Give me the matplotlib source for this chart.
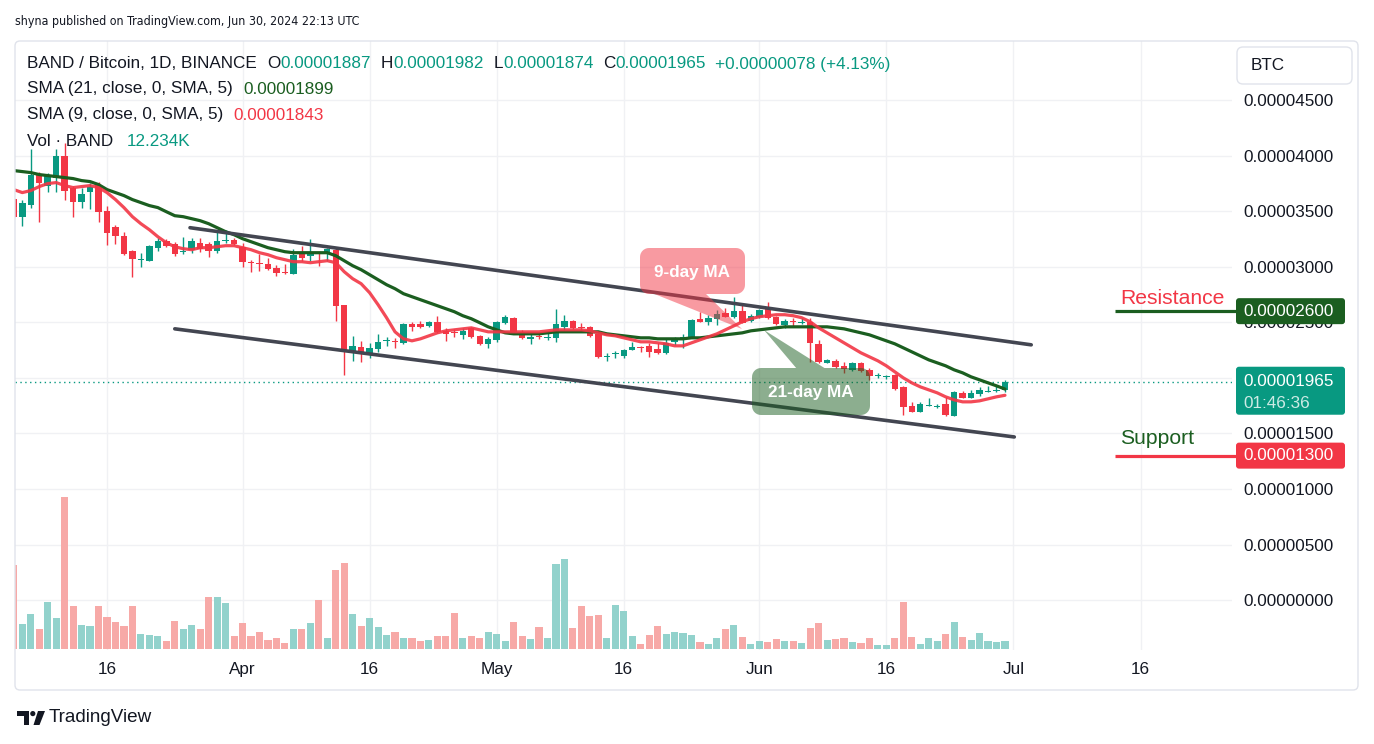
import numpy as np
import pandas as pd
import matplotlib
matplotlib.use("Agg")
import matplotlib.pyplot as plt
import matplotlib.dates as mdates
from matplotlib.path import Path
from matplotlib.patches import PathPatch, FancyBboxPatch, Circle, Polygon
from matplotlib.transforms import IdentityTransform
from matplotlib import font_manager

# ---------------------------------------------------------------- data
start_date = "2024-03-05"
end_date = "2024-06-30"

# prices in satoshi (1e-8 BTC)
open_sat = [3613, 3450, 3559, 3829, 3730, 3802, 4000, 3712, 3586, 3676,
            3739, 3505, 3360, 3279, 3144, 3060, 3054, 3171, 3234, 3207,
            3133, 3153, 3216, 3207, 3144, 3230, 3243, 3180, 3046, 3036,
            3027, 2991, 2950, 2937, 3117, 3099, 3120, 3117, 3153, 2658,
            2234, 2279, 2207, 2261, 2331, 2326, 2315, 2486, 2486, 2468,
            2505, 2423, 2408, 2387, 2450, 2378, 2306, 2342, 2496, 2541,
            2414, 2351, 2378, 2365, 2360, 2459, 2514, 2455, 2459, 2396,
            2186, 2212, 2198, 2252, 2274, 2288, 2261, 2225, 2324, 2342,
            2369, 2532, 2505, 2532, 2586, 2550, 2604, 2514, 2550, 2622,
            2550, 2477, 2509, 2493, 2505, 2306, 2135, 2153, 2108, 2072,
            2135, 2072, 2015, 2006, 2027, 1919, 1748, 1694, 1754, 1745,
            1766, 1658, 1865, 1820, 1856, 1878, 1882, 1887]
high_sat = [3620, 3604, 4063, 3856, 3847, 4063, 4117, 3730, 3712, 3757,
            3766, 3550, 3378, 3315, 3153, 3126, 3198, 3261, 3252, 3225,
            3270, 3261, 3261, 3225, 3324, 3333, 3261, 3216, 3063, 3117,
            3081, 3018, 3027, 3162, 3189, 3252, 3135, 3171, 3171, 2658,
            2378, 2333, 2315, 2396, 2369, 2360, 2496, 2505, 2514, 2514,
            2559, 2450, 2441, 2450, 2459, 2387, 2369, 2514, 2568, 2550,
            2432, 2405, 2414, 2414, 2622, 2568, 2523, 2496, 2468, 2405,
            2225, 2243, 2261, 2324, 2288, 2315, 2315, 2360, 2369, 2396,
            2532, 2595, 2568, 2613, 2631, 2730, 2658, 2577, 2622, 2685,
            2559, 2532, 2541, 2541, 2541, 2342, 2171, 2171, 2144, 2144,
            2144, 2090, 2045, 2027, 2036, 1925, 1784, 1784, 1820, 1766,
            1829, 1878, 1883, 1892, 1919, 1925, 1930, 1982]
low_sat = [3440, 3369, 3532, 3405, 3676, 3676, 3604, 3450, 3532, 3523,
           3405, 3198, 3207, 3108, 2910, 3000, 3050, 3144, 3180, 3099,
           3117, 3126, 3135, 3090, 3126, 3216, 3198, 3000, 2955, 2964,
           2973, 2919, 2935, 2935, 3054, 3054, 3009, 3054, 2514, 2027,
           2153, 2144, 2180, 2234, 2288, 2270, 2306, 2423, 2450, 2459,
           2405, 2333, 2369, 2351, 2360, 2297, 2270, 2324, 2486, 2405,
           2351, 2306, 2351, 2342, 2324, 2432, 2441, 2414, 2369, 2180,
           2153, 2180, 2180, 2250, 2234, 2189, 2216, 2216, 2297, 2270,
           2365, 2500, 2477, 2477, 2545, 2541, 2490, 2505, 2541, 2532,
           2477, 2450, 2468, 2486, 2144, 2135, 2130, 2090, 2045, 2063,
           2054, 1982, 2000, 1991, 1892, 1667, 1690, 1690, 1748, 1730,
           1658, 1655, 1818, 1818, 1838, 1870, 1875, 1874]
close_sat = [3450, 3577, 3829, 3757, 3829, 4000, 3685, 3586, 3658, 3721,
             3495, 3306, 3279, 3117, 3072, 3064, 3189, 3234, 3189, 3117,
             3137, 3234, 3162, 3144, 3234, 3234, 3207, 3045, 3038, 3030,
             2982, 2946, 2943, 3108, 3081, 3117, 3112, 3162, 2649, 2243,
             2288, 2216, 2270, 2324, 2335, 2320, 2486, 2459, 2459, 2505,
             2414, 2396, 2400, 2423, 2369, 2306, 2351, 2505, 2550, 2414,
             2360, 2369, 2365, 2369, 2486, 2514, 2450, 2447, 2378, 2189,
             2191, 2218, 2252, 2279, 2268, 2234, 2225, 2315, 2360, 2369,
             2523, 2505, 2541, 2577, 2550, 2604, 2496, 2559, 2613, 2541,
             2486, 2514, 2502, 2498, 2315, 2144, 2162, 2099, 2081, 2135,
             2063, 2018, 2020, 2010, 1901, 1739, 1694, 1766, 1757, 1748,
             1667, 1874, 1820, 1865, 1892, 1882, 1887, 1965]
sma21_sat = [3865, 3856, 3847, 3829, 3820, 3811, 3802, 3793, 3775, 3766,
             3739, 3694, 3667, 3640, 3604, 3577, 3550, 3532, 3495, 3459,
             3450, 3432, 3414, 3387, 3351, 3315, 3288, 3252, 3225, 3198,
             3171, 3153, 3135, 3126, 3126, 3126, 3126, 3126, 3099, 3054,
             3009, 2973, 2928, 2883, 2838, 2802, 2757, 2730, 2703, 2676,
             2649, 2622, 2595, 2559, 2532, 2496, 2459, 2432, 2405, 2396,
             2396, 2396, 2396, 2405, 2414, 2414, 2414, 2414, 2414, 2414,
             2396, 2387, 2378, 2369, 2360, 2360, 2351, 2351, 2351, 2351,
             2360, 2360, 2369, 2378, 2387, 2396, 2405, 2423, 2432, 2441,
             2450, 2459, 2459, 2459, 2459, 2459, 2459, 2450, 2441, 2423,
             2405, 2387, 2360, 2333, 2306, 2270, 2234, 2198, 2162, 2135,
             2108, 2072, 2045, 2009, 1982, 1955, 1928, 1899]
sma9_sat = [3694, 3667, 3685, 3721, 3748, 3757, 3730, 3712, 3721, 3730,
            3712, 3667, 3604, 3532, 3450, 3387, 3333, 3270, 3216, 3180,
            3162, 3153, 3171, 3171, 3180, 3189, 3189, 3171, 3153, 3126,
            3108, 3081, 3063, 3045, 3045, 3036, 3045, 3054, 3036, 2955,
            2892, 2847, 2766, 2658, 2541, 2414, 2351, 2333, 2351, 2378,
            2405, 2423, 2432, 2441, 2450, 2432, 2414, 2414, 2414, 2414,
            2414, 2414, 2414, 2423, 2432, 2432, 2432, 2432, 2423, 2405,
            2387, 2378, 2360, 2342, 2324, 2324, 2315, 2306, 2288, 2288,
            2315, 2342, 2369, 2396, 2432, 2468, 2505, 2532, 2550, 2559,
            2568, 2568, 2559, 2541, 2505, 2450, 2405, 2360, 2315, 2270,
            2225, 2189, 2153, 2108, 2054, 2000, 1955, 1919, 1892, 1865,
            1829, 1802, 1784, 1784, 1793, 1811, 1829, 1843]
volume_k = [128.5, 38.3, 53.6, 30.6, 71.9, 47.4, 232.6, 65.8, 36.7, 35.2,
            65.8, 49.0, 41.3, 35.2, 65.8, 23.0, 21.4, 19.9, 12.2, 42.8,
            30.6, 36.7, 30.6, 79.6, 79.6, 70.4, 19.9, 39.8, 19.9, 26.0,
            13.8, 16.8, 9.2, 30.6, 30.6, 39.8, 75.0, 16.8, 120.9, 131.6,
            53.6, 35.2, 47.4, 33.7, 21.4, 26.0, 16.8, 16.8, 12.2, 13.8,
            19.9, 19.9, 55.1, 16.8, 19.9, 16.8, 26.0, 23.0, 12.2, 41.3,
            19.9, 15.3, 33.7, 16.8, 130.1, 137.7, 32.1, 65.8, 50.5, 52.0,
            16.8, 67.3, 58.1, 19.9, 7.7, 21.4, 35.2, 23.0, 26.0, 24.5,
            21.4, 10.7, 7.7, 16.8, 30.6, 36.7, 18.4, 7.7, 12.2, 10.7,
            15.3, 12.2, 12.2, 9.2, 32.1, 39.8, 13.8, 15.3, 16.8, 10.7,
            9.2, 16.8, 6.1, 6.1, 16.8, 71.9, 18.4, 7.7, 16.8, 12.2,
            23.0, 41.3, 18.4, 13.8, 24.5, 12.2, 10.7, 12.234]

# trend channel drawn on the chart (day offset from start, price in sat)
channel_upper_day = [20.8, 120.1]
channel_upper_sat = [3351, 2297]
channel_lower_day = [19.0, 118.1]
channel_lower_sat = [2441, 1468]
resistance_sat = 2600
support_sat = 1300
level_days = [130.0, 144.3]

xtick_dates = ["2024-03-16", "2024-04-01", "2024-04-16", "2024-05-01", "2024-05-16",
               "2024-06-01", "2024-06-16", "2024-07-01", "2024-07-16"]
xtick_labels = ["16", "Apr", "16", "May", "16", "Jun", "16", "Jul", "16"]
ytick_labels = ["0.00000000", "0.00000500", "0.00001000", "0.00001500", "0.00002000",
                "0.00002500", "0.00003000", "0.00003500", "0.00004000", "0.00004500"]

header = "shyna published on TradingView.com, Jun 30, 2024 22:13 UTC"
legend_rows = [
    [("BAND / Bitcoin, 1D, BINANCE", "dark", 0), ("O", "dark", 10), ("0.00001887", "teal", 0),
     ("H", "dark", 10), ("0.00001982", "teal", 0), ("L", "dark", 10), ("0.00001874", "teal", 0),
     ("C", "dark", 10), ("0.00001965", "teal", 0), ("+0.00000078 (+4.13%)", "teal", 9)],
    [("SMA (21, close, 0, SMA, 5)", "dark", 0), ("0.00001899", "green", 11)],
    [("SMA (9, close, 0, SMA, 5)", "dark", 0), ("0.00001843", "red", 10)],
    [("Vol \u00b7 BAND", "dark", 0), ("12.234K", "teal", 13)],
]
countdown = "01:46:36"

# ---------------------------------------------------------------- style
def font_ok(name, stretch="normal"):
    try:
        font_manager.findfont(font_manager.FontProperties(family=name, stretch=stretch),
                              fallback_to_default=False)
        return True
    except Exception:
        return False

BASE = "Liberation Sans" if font_ok("Liberation Sans") else "DejaVu Sans"
if font_ok("Liberation Sans Narrow"):
    NARROW, NSTRETCH = "Liberation Sans Narrow", "normal"
else:
    NARROW, NSTRETCH = "DejaVu Sans", "condensed"
plt.rcParams["font.family"] = [BASE, "DejaVu Sans"]

DARK = "#131722"
TEAL = "#089981"
RED = "#F23645"
GREEN = "#1B5E20"
GRID = "#F0F1F4"
BORDER = "#E0E3EB"
COLORS = {"dark": DARK, "teal": TEAL, "red": RED, "green": GREEN}

W, H = 1374, 744
fig = plt.figure(figsize=(W / 100, H / 100), dpi=100)
fig.patch.set_facecolor("white")
PX = IdentityTransform()


def P(x, y):
    return (x, H - y)


L_, R_, T_, B_ = 15, 1232, 41, 650
rect = [L_ / W, 1 - B_ / H, (R_ - L_) / W, (B_ - T_) / H]
ax = fig.add_axes(rect)
axv = fig.add_axes(rect, sharex=ax)
axv.patch.set_alpha(0)

dates = pd.date_range(start_date, end_date, freq="D")
x = mdates.date2num(dates)
x0 = x[0]
o = np.array(open_sat) * 1e-8
h = np.array(high_sat) * 1e-8
l = np.array(low_sat) * 1e-8
c = np.array(close_sat) * 1e-8
vol = np.array(volume_k) * 1e3

ax.set_xlim(x0 + 0.14, x0 + 143.8)
ax.set_ylim(-4.49e-6, 50.31e-6)
axv.set_ylim(-1.53e3, 930.2e3)

for s in list(ax.spines.values()) + list(axv.spines.values()):
    s.set_visible(False)
axv.set_yticks([])
axv.tick_params(axis="x", length=0, labelbottom=False)

# grid & ticks
ax.set_yticks([float(t) for t in ytick_labels])
ax.set_yticklabels(ytick_labels)
ax.yaxis.tick_right()
ax.tick_params(axis="y", length=0, pad=8, labelsize=12.3, labelcolor=DARK)
ax.set_xticks(mdates.date2num(pd.to_datetime(xtick_dates)))
ax.set_xticklabels(xtick_labels)
ax.tick_params(axis="x", length=0, pad=8.5, labelsize=12.3, labelcolor=DARK)
ax.grid(True, color=GRID, lw=1.0, zorder=0)
ax.set_axisbelow(True)

# volume
up = c >= o
vcol = np.where(up, "#92D2CC", "#F7A9A7")
axv.bar(x, vol, width=0.84, color=vcol, linewidth=0, zorder=2)

# candles
ccol = np.where(up, TEAL, RED)
ax.vlines(x, l, h, colors=ccol, lw=1.0, zorder=3)
min_h = 0.09e-6
body = np.abs(c - o)
bh = np.maximum(body, min_h)
bb = np.minimum(o, c) - (bh - body) / 2
ax.bar(x, bh, bottom=bb, width=0.76, color=ccol, linewidth=0, zorder=4)

# moving averages
ax.plot(x, np.array(sma21_sat) * 1e-8, color=GREEN, lw=2.3, zorder=5, solid_capstyle="round")
ax.plot(x, np.array(sma9_sat) * 1e-8, color=RED, lw=2.3, alpha=0.9, zorder=5, solid_capstyle="round")

# trend channel
ax.plot(x0 + np.array(channel_upper_day), np.array(channel_upper_sat) * 1e-8,
        color="#434651", lw=2.6, zorder=6, solid_capstyle="round", clip_on=False)
ax.plot(x0 + np.array(channel_lower_day), np.array(channel_lower_sat) * 1e-8,
        color="#434651", lw=2.6, zorder=6, solid_capstyle="round", clip_on=False)

# last price dotted line
ax.axhline(c[-1], color=TEAL, lw=1.0, ls=(0, (1, 2.5)), zorder=2)

# resistance / support
ax.hlines(resistance_sat * 1e-8, x0 + level_days[0], x0 + level_days[1], colors=GREEN, lw=2.3,
          clip_on=False, zorder=7)
ax.hlines(support_sat * 1e-8, x0 + level_days[0], x0 + level_days[1], colors=RED, lw=2.3,
          clip_on=False, zorder=7)
ax.annotate("Resistance", xy=(x0 + level_days[0] + 0.6, resistance_sat * 1e-8), xytext=(0, 13),
            textcoords="offset pixels", color=RED, fontsize=15.2, va="center", ha="left",
            annotation_clip=False, zorder=8)
ax.annotate("Support", xy=(x0 + level_days[0] + 0.6, support_sat * 1e-8), xytext=(0, 17),
            textcoords="offset pixels", color=GREEN, fontsize=15.2, va="center", ha="left",
            annotation_clip=False, zorder=8)


def ypix(price):
    return H - ax.transData.transform((x0, price))[1]


def rbox(x_0, y_0, x_1, y_1, r, **kw):
    p = FancyBboxPatch(P(x_0, y_1), x_1 - x_0, y_1 - y_0,
                       boxstyle=f"round,pad=0,rounding_size={r}", transform=PX, **kw)
    fig.add_artist(p)
    return p


# price scale labels
for val, bg in [(resistance_sat, GREEN), (support_sat, RED)]:
    yc = ypix(val * 1e-8)
    rbox(1236, yc - 13, 1345, yc + 13, 3, facecolor=bg, edgecolor="none", zorder=5)
    fig.text(*P(1243, yc), f"{val * 1e-8:.8f}", transform=PX, color="white",
             fontsize=12.3, va="center", ha="left", zorder=6)
yc = ypix(c[-1])
rbox(1236, yc - 15, 1345, yc + 33, 3, facecolor=TEAL, edgecolor="none", zorder=5)
fig.text(*P(1243, yc), f"{c[-1]:.8f}", transform=PX, color="white", fontsize=12.3,
         va="center", ha="left", zorder=6)
fig.text(*P(1243, yc + 22), countdown, transform=PX, color="#CDEBE5", fontsize=12.3,
         va="center", ha="left", zorder=6)

# currency box
rbox(1237, 47, 1352, 84, 6, facecolor="white", edgecolor=BORDER, lw=1.0, zorder=5)
fig.text(*P(1251, 66), "BTC", transform=PX, color=DARK, fontsize=12.3, va="center", zorder=6)

# chart frame
rbox(15, 41, 1358, 690, 5, facecolor="none", edgecolor=BORDER, lw=1.0, zorder=4)


# callouts
def callout(x_0, y_0, x_1, y_1, tri, color, text, r=9):
    X0, X1, Yb, Yt = x_0, x_1, H - y_1, H - y_0
    pts = []
    for cx, cy, a0 in [(X1 - r, Yb + r, -90), (X1 - r, Yt - r, 0), (X0 + r, Yt - r, 90), (X0 + r, Yb + r, 180)]:
        for a in np.linspace(a0, a0 + 90, 8):
            pts.append((cx + r * np.cos(np.radians(a)), cy + r * np.sin(np.radians(a))))
    tri_d = [P(px_, py_) for px_, py_ in tri]
    area = sum(tri_d[i][0] * tri_d[(i + 1) % 3][1] - tri_d[(i + 1) % 3][0] * tri_d[i][1] for i in range(3))
    if area < 0:
        tri_d = tri_d[::-1]
    verts = pts + [pts[0]] + tri_d + [tri_d[0]]
    codes = [Path.MOVETO] + [Path.LINETO] * (len(pts) - 1) + [Path.CLOSEPOLY] + \
            [Path.MOVETO, Path.LINETO, Path.LINETO, Path.CLOSEPOLY]
    patch = PathPatch(Path(verts, codes), transform=PX, facecolor=color, alpha=0.5,
                      edgecolor="none", zorder=7)
    fig.add_artist(patch)
    fig.text(*P((x_0 + x_1) / 2, (y_0 + y_1) / 2 + 1), text, transform=PX, color="white",
             fontsize=12.3, fontweight="bold", ha="center", va="center", zorder=8)


callout(640, 248, 745, 294, [(652, 293), (705, 293), (742, 329)], RED, "9-day MA")
callout(752, 368, 870, 415, [(764, 330), (797, 369), (826, 369)], GREEN, "21-day MA")

# header and legend
renderer = fig.canvas.get_renderer()
ht = fig.text(*P(15, 22), header, transform=PX, color=DARK, fontsize=11, family=NARROW,
              fontstretch=NSTRETCH, va="center", ha="left")
wt = ht.get_window_extent(renderer).width
ht.set_fontsize(min(11 * 343 / wt, 11.5))

for row, yrow in zip(legend_rows, [64, 89, 115, 141]):
    prev = None
    for txt, col, gap in row:
        if prev is None:
            prev = fig.text(*P(27, yrow), txt, transform=PX, color=COLORS[col], fontsize=12.3,
                            va="center", ha="left")
        else:
            prev = ax.annotate(txt, xy=(1, 0), xycoords=prev, xytext=(gap, 0),
                               textcoords="offset pixels", color=COLORS[col], fontsize=12.3,
                               va="bottom", ha="left", annotation_clip=False)

# TradingView logo
fig.add_artist(Polygon([P(17, 711), P(29, 711), P(29, 725), P(23.5, 725), P(23.5, 716), P(17, 716)],
                       closed=True, transform=PX, facecolor=DARK, edgecolor="none"))
fig.add_artist(Circle(P(32.8, 713.6), 2.6, transform=PX, facecolor=DARK, edgecolor="none"))
fig.add_artist(Polygon([P(38, 711), P(45, 711), P(39.5, 725), P(33.5, 725)], closed=True,
                       transform=PX, facecolor=DARK, edgecolor="none"))
fig.text(*P(49, 718), "TradingView", transform=PX, color=DARK, fontsize=13.6, va="center", ha="left")

fig.savefig("out.png", dpi=100, facecolor="white")
